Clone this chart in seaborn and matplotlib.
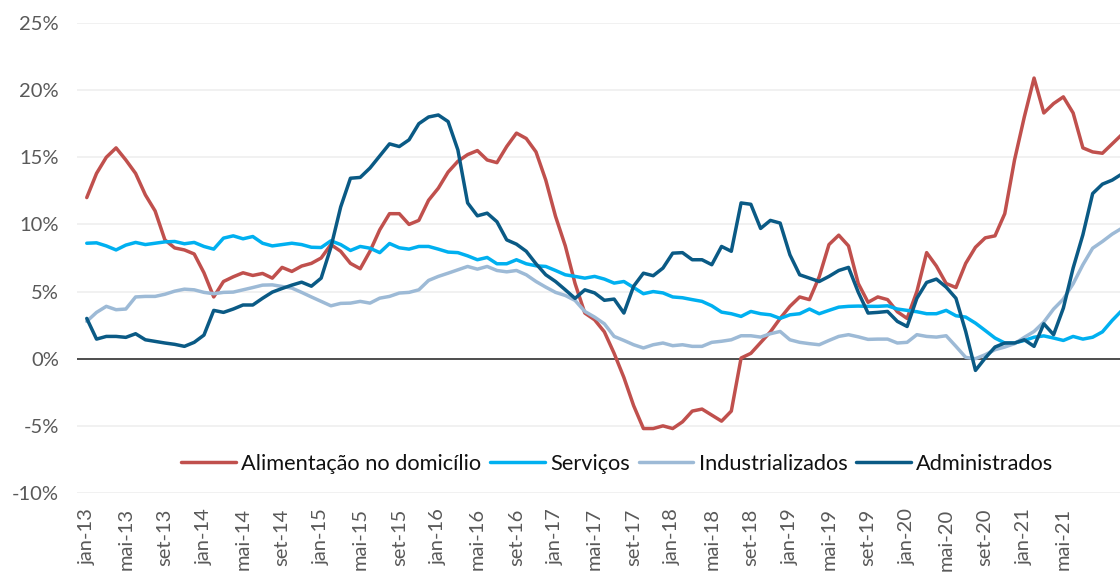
import pandas as pd
import matplotlib
matplotlib.use("Agg")
import matplotlib.pyplot as plt
import seaborn as sns

# === dados (variação em 12 meses, %) jan-13 ... nov-21 ===
month_names = ["jan", "fev", "mar", "abr", "mai", "jun", "jul", "ago", "set", "out", "nov", "dez"]
start_year = 13

alimentacao = [
    12.0, 13.8, 15.0, 15.7, 14.8, 13.8, 12.2, 11.0, 8.85, 8.25, 8.1, 7.8, 6.4, 4.6, 5.75, 6.1,
    6.4, 6.2, 6.35, 6.0, 6.8, 6.5, 6.9, 7.1, 7.5, 8.5, 8.0, 7.1, 6.7, 8.0, 9.6, 10.8,
    10.8, 10.0, 10.3, 11.8, 12.7, 13.9, 14.7, 15.2, 15.5, 14.8, 14.6, 15.8, 16.8, 16.4, 15.4, 13.3,
    10.6, 8.4, 5.6, 3.4, 2.9, 2.0, 0.4, -1.4, -3.5, -5.2, -5.2, -5.0, -5.2, -4.7, -3.9, -3.75,
    -4.2, -4.65, -3.9, 0.05, 0.4, 1.2, 2.0, 3.0, 3.9, 4.6, 4.4, 6.1, 8.5, 9.2, 8.4, 5.6,
    4.2, 4.6, 4.4, 3.5, 3.0, 5.0, 7.9, 6.9, 5.6, 5.3, 7.1, 8.3, 9.0, 9.15, 10.8, 14.8,
    18.0, 20.9, 18.3, 19.0, 19.5, 18.3, 15.7, 15.4, 15.3, 16.0, 16.7,
]
servicos = [
    8.6, 8.63, 8.4, 8.1, 8.46, 8.66, 8.5, 8.6, 8.7, 8.73, 8.56, 8.66, 8.36, 8.16, 8.98, 9.15,
    8.93, 9.1, 8.6, 8.4, 8.5, 8.6, 8.5, 8.3, 8.28, 8.78, 8.5, 8.06, 8.36, 8.23, 7.9, 8.58,
    8.26, 8.16, 8.36, 8.36, 8.16, 7.94, 7.9, 7.66, 7.37, 7.54, 7.07, 7.07, 7.37, 7.07, 6.92, 6.87,
    6.57, 6.25, 6.13, 6.0, 6.13, 5.93, 5.63, 5.75, 5.3, 4.84, 5.0, 4.9, 4.6, 4.54, 4.4, 4.27,
    3.94, 3.47, 3.35, 3.15, 3.52, 3.35, 3.27, 3.0, 3.27, 3.35, 3.7, 3.35, 3.6, 3.84, 3.9, 3.92,
    3.9, 3.9, 3.94, 3.7, 3.6, 3.5, 3.35, 3.35, 3.6, 3.2, 3.1, 2.65, 2.1, 1.54, 1.17, 1.17,
    1.36, 1.6, 1.7, 1.54, 1.36, 1.66, 1.46, 1.6, 2.0, 2.85, 3.6,
]
industrializados = [
    2.78, 3.45, 3.9, 3.65, 3.7, 4.6, 4.64, 4.64, 4.8, 5.03, 5.18, 5.13, 4.94, 4.84, 4.94, 4.96,
    5.13, 5.3, 5.48, 5.5, 5.38, 5.26, 4.94, 4.6, 4.27, 3.94, 4.12, 4.14, 4.27, 4.14, 4.51, 4.64,
    4.89, 4.94, 5.13, 5.83, 6.13, 6.37, 6.62, 6.87, 6.67, 6.87, 6.57, 6.47, 6.57, 6.25, 5.75, 5.33,
    4.94, 4.71, 4.34, 3.52, 3.1, 2.6, 1.66, 1.36, 1.04, 0.8, 1.04, 1.17, 0.97, 1.04, 0.92, 0.92,
    1.22, 1.3, 1.41, 1.71, 1.71, 1.61, 1.86, 2.03, 1.41, 1.22, 1.12, 1.04, 1.36, 1.66, 1.79, 1.63,
    1.44, 1.46, 1.46, 1.17, 1.22, 1.79, 1.66, 1.61, 1.71, 0.92, 0.1, 0.0, 0.3, 0.67, 0.87, 1.12,
    1.59, 2.03, 2.73, 3.7, 4.44, 5.58, 7.0, 8.23, 8.73, 9.28, 9.72,
]
administrados = [
    3.0, 1.46, 1.66, 1.66, 1.59, 1.86, 1.41, 1.29, 1.17, 1.07, 0.92, 1.22, 1.76, 3.6, 3.45, 3.7,
    4.0, 4.0, 4.5, 4.96, 5.23, 5.48, 5.7, 5.4, 6.0, 8.3, 11.3, 13.44, 13.5, 14.2, 15.1, 16.0,
    15.8, 16.3, 17.5, 18.0, 18.15, 17.66, 15.55, 11.6, 10.64, 10.84, 10.2, 8.85, 8.53, 8.0, 7.07, 6.25,
    5.75, 5.13, 4.49, 5.13, 4.9, 4.35, 4.44, 3.4, 5.4, 6.37, 6.18, 6.75, 7.86, 7.9, 7.37, 7.37,
    7.0, 8.36, 8.0, 11.6, 11.5, 9.7, 10.3, 10.1, 7.74, 6.25, 6.0, 5.75, 6.13, 6.57, 6.8, 4.95,
    3.4, 3.45, 3.52, 2.78, 2.4, 4.5, 5.68, 5.93, 5.33, 4.5, 2.03, -0.87, 0.05, 0.87, 1.17, 1.17,
    1.41, 0.92, 2.6, 1.79, 3.77, 6.75, 9.23, 12.3, 13.0, 13.3, 13.76,
]

series_names = ["Alimentação no domicílio", "Serviços", "Industrializados", "Administrados"]
colors = ["#C0504D", "#00B0F0", "#9DBAD6", "#0A5A85"]

n = len(alimentacao)
month_idx = list(range(n))
month_labels = [f"{month_names[i % 12]}-{start_year + i // 12}" for i in month_idx]

df = pd.DataFrame({
    "mes": month_idx,
    series_names[0]: alimentacao,
    series_names[1]: servicos,
    series_names[2]: industrializados,
    series_names[3]: administrados,
})
long_df = df.melt(id_vars="mes", var_name="serie", value_name="valor")

# === estilo ===
sns.set_theme(style="white")
plt.rcParams["font.family"] = ["Lato", "DejaVu Sans"]

fig = plt.figure(figsize=(11.2, 5.73), dpi=100)
ax = fig.add_axes([77 / 1120, 80 / 573, 1043 / 1120, 470 / 573])

ax.yaxis.grid(True, color="#EFEFEF", linewidth=1.2)
ax.xaxis.grid(False)
ax.set_axisbelow(True)
ax.axhline(0, color="#404040", linewidth=1.3, zorder=1.5)

sns.lineplot(data=long_df, x="mes", y="valor", hue="serie", hue_order=series_names,
             palette=colors, linewidth=2.5, ax=ax)

ax.set_xlim(-1.0, 105.8)
ax.set_ylim(-10, 25)
ax.set_yticks(range(-10, 30, 5))
ax.set_yticklabels([f"{v}%" for v in range(-10, 30, 5)])

tick_pos = month_idx[0:101:4]
ax.set_xticks(tick_pos)
ax.set_xticklabels([month_labels[i] for i in tick_pos], rotation=90, va="top", ha="center")

ax.tick_params(axis="y", length=0, pad=13, labelsize=14.5, labelcolor="#595959")
ax.tick_params(axis="x", length=0, pad=11, labelsize=14.5, labelcolor="#595959")
ax.set_xlabel("")
ax.set_ylabel("")
sns.despine(ax=ax, left=True, bottom=True)

handles, labels = ax.get_legend_handles_labels()
ax.legend(handles, labels, loc="center", bbox_to_anchor=(0.518, 0.062), ncol=4,
          frameon=False, fontsize=15.7, handlelength=2.5, handletextpad=0.25,
          columnspacing=0.4, borderaxespad=0, labelcolor="#111111")

plt.savefig("out.png", dpi=100)
